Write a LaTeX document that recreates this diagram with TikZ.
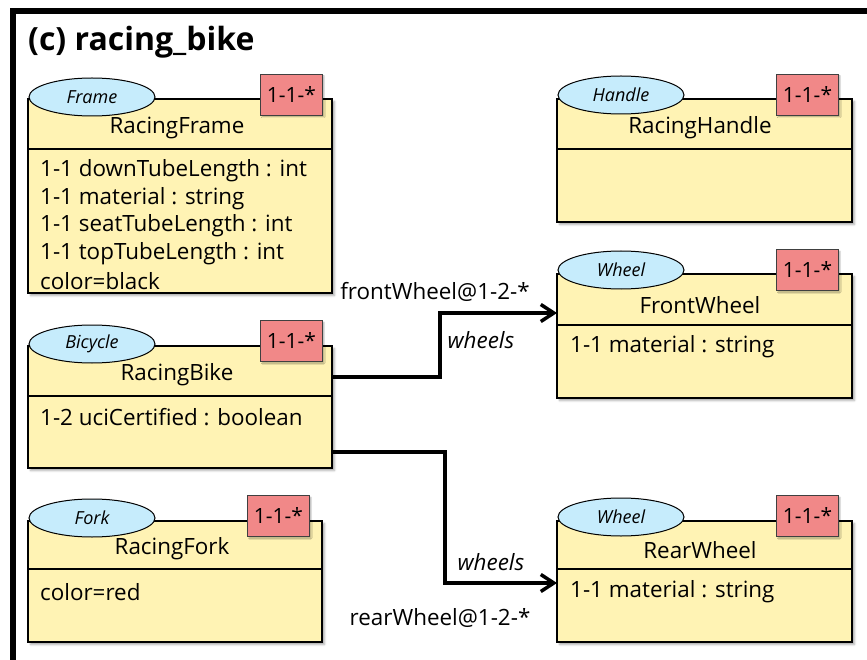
\documentclass[tikz,border=0pt]{standalone}
\usepackage{fontspec}
\setmainfont{Open Sans}
\usepackage{xcolor}
\usepackage{tikz}
\usetikzlibrary{arrows.meta,positioning,calc,shapes.geometric,shadows.blur}

\definecolor{classfill}{RGB}{255,243,180}
\definecolor{stereofill}{RGB}{198,236,252}
\definecolor{tagfill}{RGB}{241,136,136}

\begin{document}
\begin{tikzpicture}[x=1pt,y=-1pt,
  classbox/.style={draw,line width=2.5pt,fill=classfill,anchor=north west,
    inner sep=0pt,outer sep=0pt,
    blur shadow={shadow xshift=2.5pt,shadow yshift=-2.5pt,shadow blur radius=2pt,shadow opacity=35}},
  stereo/.style={ellipse,draw,line width=1pt,fill=stereofill,minimum width=126pt,
    minimum height=38pt,inner sep=0pt,font=\fontsize{18}{18}\selectfont\itshape},
  tag/.style={draw=black!75,line width=1pt,fill=tagfill,anchor=north west,
    minimum width=62pt,minimum height=41pt,inner sep=0pt,font=\fontsize{21}{21}\selectfont,
    blur shadow={shadow xshift=1.5pt,shadow yshift=-1.5pt,shadow blur radius=1pt,shadow opacity=30}},
  cname/.style={font=\fontsize{22.4}{22.4}\selectfont},
  attr/.style={anchor=west,inner sep=0pt,font=\fontsize{22.4}{22.4}\selectfont},
  divider/.style={line width=2pt},
  wire/.style={line width=3.5pt,-{Straight Barb[length=13pt,width=17pt]}},
  lbl/.style={font=\fontsize{22.4}{22.4}\selectfont},
  role/.style={font=\fontsize{22.4}{22.4}\selectfont\itshape}]
  \useasboundingbox (0,0) rectangle (867,660);

  % outer frame and title
  \draw[line width=6pt] (12.5,660) -- (12.5,11.5) -- (867,11.5);
  \node[anchor=west,inner sep=0pt,font=\fontsize{32}{32}\selectfont\bfseries] (title) at (28,42) {(c) racing\_bike};

  % RacingFrame
  \node[classbox,minimum width=304pt,minimum height=194pt] (frame) at (28,99) {};
  \draw[divider] (28,149) -- (332,149);
  \node[stereo] (frameSt) at (92,97) {Frame};
  \node[tag] (frameTag) at (260,74) {1-1-*};
  \node[cname] (frameName) at (177,128) {RacingFrame};
  \node[attr] (fa1) at (40,171) {1-1 downTubeLength : int};
  \node[attr] (fa2) at (40,199) {1-1 material : string};
  \node[attr] (fa3) at (40,226) {1-1 seatTubeLength : int};
  \node[attr] (fa4) at (40,254) {1-1 topTubeLength : int};
  \node[attr] (fa5) at (40,281) {color=black};

  % RacingBike
  \node[classbox,minimum width=304pt,minimum height=122pt] (bike) at (28,346) {};
  \draw[divider] (28,396) -- (332,396);
  \node[stereo] (bikeSt) at (92,344) {Bicycle};
  \node[tag] (bikeTag) at (260,320) {1-1-*};
  \node[cname] (bikeName) at (177,375) {RacingBike};
  \node[attr] (ba1) at (40,417) {1-2 uciCertified : boolean};

  % RacingFork
  \node[classbox,minimum width=294pt,minimum height=121pt] (fork) at (28,521) {};
  \draw[divider] (28,569) -- (322,569);
  \node[stereo] (forkSt) at (92,518) {Fork};
  \node[tag] (forkTag) at (247,495) {1-1-*};
  \node[cname] (forkName) at (172,549) {RacingFork};
  \node[attr] (ka1) at (40,592) {color=red};

  % RacingHandle
  \node[classbox,minimum width=295pt,minimum height=123pt] (handle) at (557,99) {};
  \draw[divider] (557,149) -- (852,149);
  \node[stereo] (handleSt) at (621,95) {Handle};
  \node[tag] (handleTag) at (776,74) {1-1-*};
  \node[cname] (handleName) at (700,128) {RacingHandle};

  % FrontWheel
  \node[classbox,minimum width=295pt,minimum height=124pt] (front) at (557,274) {};
  \draw[divider] (557,325) -- (852,325);
  \node[stereo] (frontSt) at (621,270) {Wheel};
  \node[tag] (frontTag) at (776,249) {1-1-*};
  \node[cname] (frontName) at (700,305) {FrontWheel};
  \node[attr] (wa1) at (570,347) {1-1 material : string};

  % RearWheel
  \node[classbox,minimum width=295pt,minimum height=121pt] (rear) at (557,521) {};
  \draw[divider] (557,569) -- (852,569);
  \node[stereo] (rearSt) at (621,517) {Wheel};
  \node[tag] (rearTag) at (776,495) {1-1-*};
  \node[cname] (rearName) at (700,550) {RearWheel};
  \node[attr] (ra1) at (570,592) {1-1 material : string};

  % references
  \draw[wire] ([yshift=-31pt]bike.north east) -- ++(108,0) |- ([yshift=-39pt]front.north west);
  \draw[wire] ([yshift=-106pt]bike.north east) -- ++(113,0) |- ([yshift=-62pt]rear.north west);
  \node[lbl] (fwName) at (435,292) {frontWheel@1-2-*};
  \node[role] (fwRole) at (481,340) {wheels};
  \node[role] (rwRole) at (491,562) {wheels};
  \node[lbl] (rwName) at (440,618) {rearWheel@1-2-*};
\end{tikzpicture}
\end{document}
